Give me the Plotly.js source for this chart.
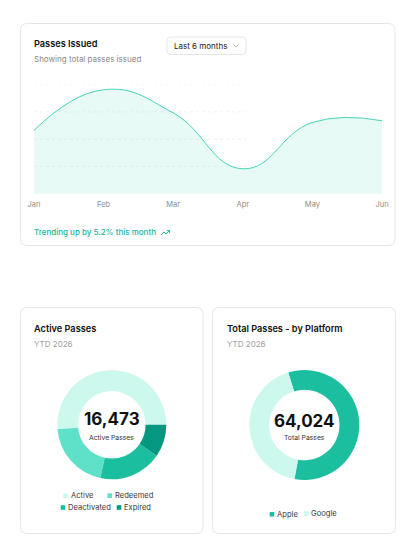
<!DOCTYPE html>
<html>
<head>
<meta charset="utf-8">
<script src="https://cdn.plot.ly/plotly-3.0.1.min.js"></script>
<style>
html,body{margin:0;padding:0;background:#ffffff;}
#chart{width:414px;height:552px;}
</style>
</head>
<body>
<div id="chart"></div>
<script>
// ---------- data ----------
const months = ['Jan', 'Feb', 'Mar', 'Apr', 'May', 'Jun'];
const passesIssued = [186, 305, 237, 73, 209, 214];
const gridValues = [80, 160, 240, 320];

const statusLabels = ['Active', 'Redeemed', 'Deactivated', 'Expired'];
const statusValues = [8456, 3345, 3089, 1583];
const statusColors = ['#ccf8ed', '#5fe0c8', '#1bbf9f', '#05977f'];
const activeTotal = '16,473';

const platformLabels = ['Apple', 'Google'];
const platformValues = [36870, 27154];
const platformColors = ['#1bbf9f', '#ccf8ed'];
const platformTotal = '64,024';

// ---------- helpers (pixel -> paper) ----------
const W = 414, H = 552;
const X = p => p / W;
const Y = p => 1 - p / H;
const FONT = 'Inter, "Noto Sans", sans-serif';

function roundRect(x0, y0, x1, y1, r) {
  const p = [
    ['M', x0 + r, y0], ['L', x1 - r, y0], ['Q', x1, y0, x1, y0 + r],
    ['L', x1, y1 - r], ['Q', x1, y1, x1 - r, y1], ['L', x0 + r, y1],
    ['Q', x0, y1, x0, y1 - r], ['L', x0, y0 + r], ['Q', x0, y0, x0 + r, y0]
  ];
  return p.map(s => {
    let out = s[0];
    for (let i = 1; i < s.length; i += 2) out += (i > 1 ? ' ' : '') + X(s[i]).toFixed(5) + ',' + Y(s[i + 1]).toFixed(5);
    return out;
  }).join(' ') + ' Z';
}
function polyPath(pts) {
  return pts.map((q, i) => (i ? 'L' : 'M') + X(q[0]).toFixed(5) + ',' + Y(q[1]).toFixed(5)).join(' ');
}
function card(x0, y0, x1, y1) {
  return {type: 'path', xref: 'paper', yref: 'paper', path: roundRect(x0, y0, x1, y1, 7),
    fillcolor: '#ffffff', line: {color: '#e6e6e6', width: 1}, layer: 'below'};
}
// left-anchored annotations carry ~2px of internal padding
function txt(text, px, py, size, color, weight, anchor) {
  const a = anchor || 'left';
  return {text: text, x: X(a === 'left' ? px - 2 : px), y: Y(py), xref: 'paper', yref: 'paper', showarrow: false,
    xanchor: a, yanchor: 'middle',
    font: {family: FONT, size: size, color: color, weight: weight || 400}};
}

// ---------- traces ----------
const traces = [
  {
    type: 'scatter', mode: 'lines', x: months, y: passesIssued,
    line: {shape: 'spline', smoothing: 1.3, color: '#45d3b9', width: 1},
    fill: 'tozeroy', fillcolor: 'rgba(60, 214, 180, 0.12)',
    hoverinfo: 'skip', showlegend: false
  },
  {
    type: 'pie', labels: statusLabels, values: statusValues, sort: false,
    direction: 'counterclockwise', rotation: -94.8, hole: 0.62,
    marker: {colors: statusColors, line: {color: '#ffffff', width: 0}},
    textinfo: 'none', hoverinfo: 'label+value', showlegend: false,
    domain: {x: [X(111.8 - 54.5), X(111.8 + 54.5)], y: [Y(424.8 + 54.5), Y(424.8 - 54.5)]}
  },
  {
    type: 'pie', labels: platformLabels, values: platformValues, sort: false,
    direction: 'clockwise', rotation: -17, hole: 0.64,
    marker: {colors: platformColors, line: {color: '#ffffff', width: 0}},
    textinfo: 'none', hoverinfo: 'label+value', showlegend: false,
    domain: {x: [X(304.3 - 55), X(304.3 + 55)], y: [Y(425 + 55), Y(425 - 55)]}
  }
];

// ---------- shapes ----------
const shapes = [
  card(20.5, 23.5, 395, 245.5),
  card(20.5, 307.5, 203, 533.5),
  card(212.5, 307.5, 395.5, 533.5),
  // dropdown button
  {type: 'path', xref: 'paper', yref: 'paper', path: roundRect(167, 37, 246, 54.5, 4),
    fillcolor: '#ffffff', line: {color: '#e6e6e6', width: 1}, layer: 'below'},
  // chevron
  {type: 'path', xref: 'paper', yref: 'paper', path: polyPath([[233.5, 44.5], [236, 47], [238.5, 44.5]]),
    line: {color: '#9a9a9a', width: 0.8}},
  // trending icon
  {type: 'path', xref: 'paper', yref: 'paper',
    path: polyPath([[161, 235], [164, 232], [166, 234], [169.5, 230.5]]),
    line: {color: '#19b697', width: 0.9}},
  {type: 'path', xref: 'paper', yref: 'paper',
    path: polyPath([[167, 230.5], [169.5, 230.5], [169.5, 233]]),
    line: {color: '#19b697', width: 0.9}}
];
gridValues.forEach(v => shapes.push({
  type: 'line', xref: 'paper', yref: 'y', x0: X(34), x1: X(246), y0: v, y1: v,
  line: {color: '#f2f2f2', width: 1, dash: 'dot'}, layer: 'below'
}));

// legend markers + labels (built from the category arrays)
const legendPos1 = [[65.5, 495.7, 71], [109.7, 495.7, 114.7], [63, 507.5, 68], [119, 507.5, 124]];
const legendPos2 = [[272, 514.3, 277.3], [306.3, 513.6, 310.7]];
const annotations = [
  txt('Passes Issued', 34, 43.7, 9.2, '#111111', 600),
  txt('Showing total passes issued', 34, 58.7, 8, '#8a8a8a', 400),
  txt('Last 6 months', 173.5, 45.7, 8, '#222222', 400),
  txt('Trending up by 5.2% this month', 34, 232, 8, '#19b697', 500),
  txt('Active Passes', 34, 328, 9.2, '#111111', 600),
  txt('YTD 2026', 34, 344, 8, '#a0a0a0', 400),
  txt('Total Passes - by Platform', 226.5, 328, 9.2, '#111111', 600),
  txt('YTD 2026', 226.5, 344, 8, '#a0a0a0', 400),
  txt(activeTotal, 111.8, 419, 17, '#111111', 700, 'center'),
  txt('Active Passes', 111.8, 437.2, 6.8, '#333333', 400, 'center'),
  txt(platformTotal, 304.3, 420.5, 17, '#111111', 700, 'center'),
  txt('Total Passes', 304.3, 437.2, 6.8, '#333333', 400, 'center')
];
function addLegend(labels, colors, pos) {
  labels.forEach((lab, i) => {
    const p = pos[i];
    shapes.push({type: 'rect', xref: 'paper', yref: 'paper',
      x0: X(p[0] - 2.3), x1: X(p[0] + 2.3), y0: Y(p[1] + 2.3), y1: Y(p[1] - 2.3),
      fillcolor: colors[i], line: {width: 0}});
    annotations.push(txt(lab, p[2], p[1], 7.6, '#3a3a3a', 400));
  });
}
addLegend(statusLabels, statusColors, legendPos1);
addLegend(platformLabels, platformColors, legendPos2);

const layout = {
  width: W, height: H,
  margin: {l: 0, r: 0, t: 0, b: 0},
  paper_bgcolor: '#ffffff', plot_bgcolor: 'rgba(0,0,0,0)',
  font: {family: FONT},
  showlegend: false,
  xaxis: {
    domain: [X(34), X(382)], range: [0, 5], type: 'category',
    showgrid: false, zeroline: false, showline: false, ticks: '',
    ticklabelstandoff: 5,
    tickfont: {family: FONT, size: 7.5, color: '#8c8c8c'}, fixedrange: true
  },
  yaxis: {
    domain: [Y(193.7), Y(84.6)], range: [0, 320],
    showgrid: false, zeroline: false, showline: false, showticklabels: false, ticks: '',
    fixedrange: true
  },
  shapes: shapes,
  annotations: annotations
};

Plotly.newPlot('chart', traces, layout, {displayModeBar: false, staticPlot: true});
</script>
</body>
</html>
